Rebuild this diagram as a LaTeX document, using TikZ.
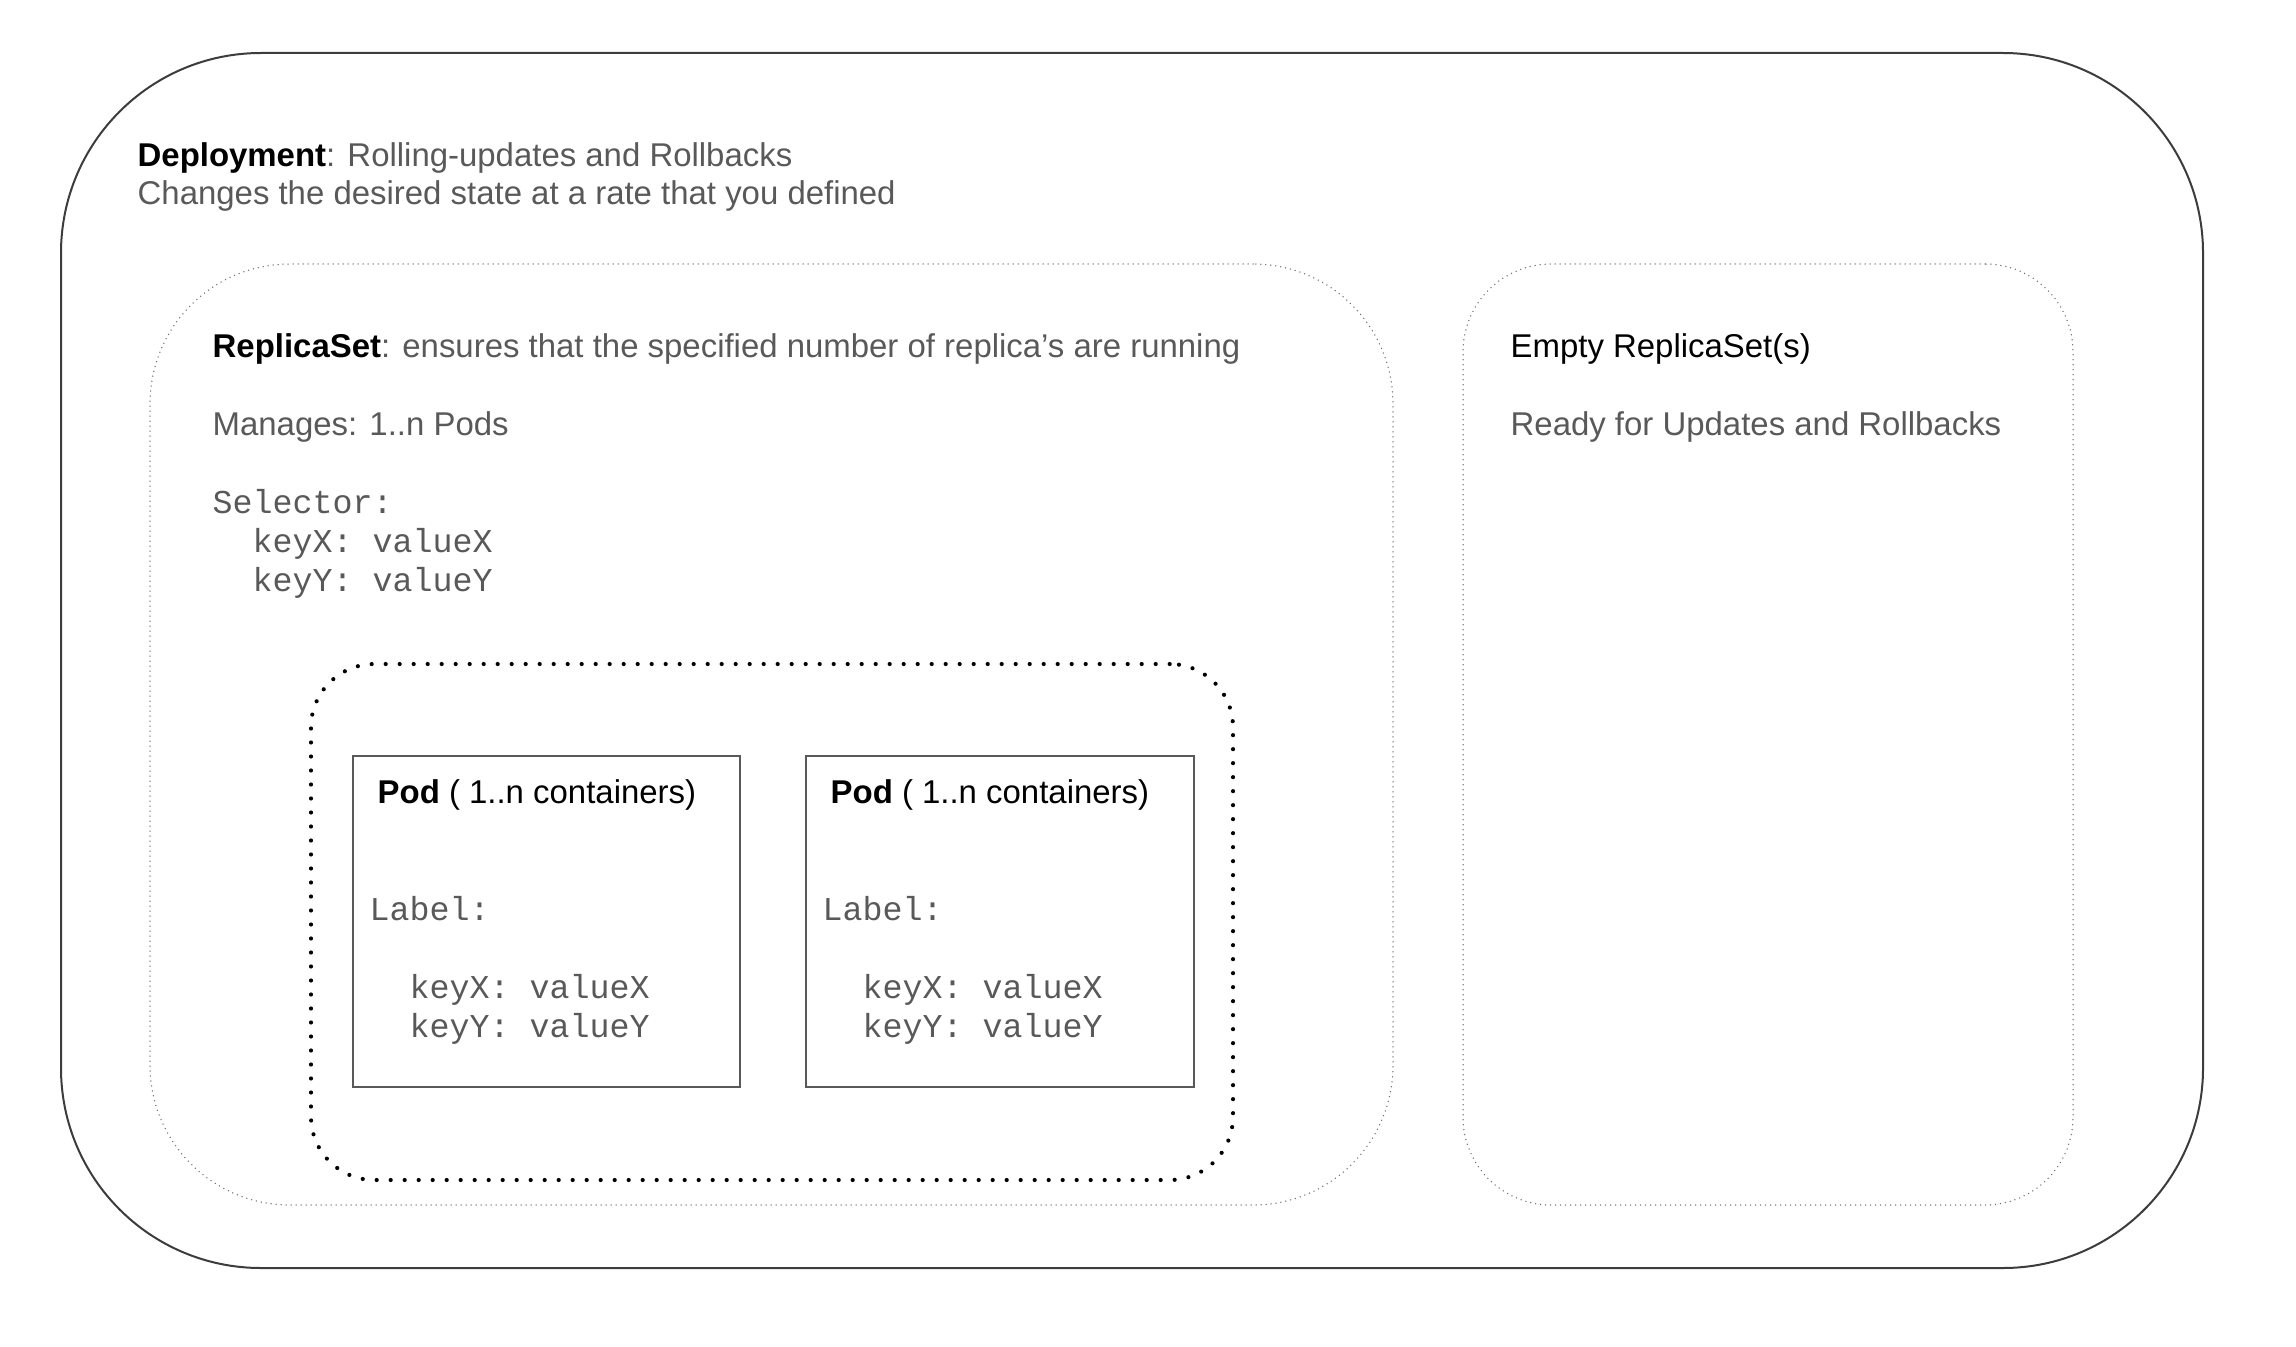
\documentclass[tikz,border=0pt]{standalone}
\usepackage{fontspec}
\setmainfont{Liberation Sans}
\setmonofont{Liberation Mono}
\usetikzlibrary{fit}
\definecolor{txtgray}{HTML}{595959}
\definecolor{linegray}{HTML}{3C3C3C}
\definecolor{dotgray}{HTML}{6E6E6E}

\begin{document}
\begin{tikzpicture}[x=0.3pt, y=0.3pt, every node/.style={font=\fontsize{9.88}{12}\selectfont}]
  % Styles
  \tikzset{
    deploybox/.style={rectangle, draw=linegray, line width=0.6pt, rounded corners=60pt, inner sep=0pt},
    rsbox/.style={rectangle, draw=dotgray, line width=0.45pt, line cap=round, dash pattern=on 0pt off 1.5pt, inner sep=0pt},
    podgroup/.style={rectangle, draw=black, line width=1.25pt, line cap=round, dash pattern=on 0pt off 4.2pt, rounded corners=19pt, inner sep=0pt},
    podbox/.style={rectangle, draw=linegray!85, line width=0.6pt, inner sep=0pt},
    txt/.style={anchor=base west, inner sep=0pt, text=txtgray},
    mono/.style={txt, font=\fontsize{10}{12}\selectfont\ttfamily}
  }
  \useasboundingbox (0,0) rectangle (2296,1346);

  % Containers
  \node[deploybox, fit={(61,1293) (2203,78)}] (deploy) {};
  \node[rsbox, rounded corners=42pt, fit={(150,1082) (1393,141)}] (rs) {};
  \node[rsbox, rounded corners=26.4pt, fit={(1463,1082) (2073,141)}] (emptyrs) {};
  \node[podgroup, fit={(311,682) (1233,166)}] (pods) {};
  \node[podbox, fit={(353,590) (740,259)}] (podA) {};
  \node[podbox, fit={(806,590) (1194,259)}] (podB) {};

  % Deployment
  \node[txt] (deptitle) at (137,1179) {\textcolor{black}{\textbf{Deployment}}: Rolling-updates and Rollbacks};
  \node[txt] (depnote) at (137,1141) {Changes the desired state at a rate that you defined};

  % ReplicaSet
  \node[txt] (rstitle) at (212,989) {\textcolor{black}{\textbf{ReplicaSet}}: ensures that the specified number of replica’s are running};
  \node[txt] (rsmanages) at (212,911) {Manages: 1..n Pods};
  \node[mono] (rssel) at (212,833) {Selector:};
  \node[mono] (rskeyx) at (252,794) {keyX: valueX};
  \node[mono] (rskeyy) at (252,755) {keyY: valueY};

  % Empty ReplicaSet(s)
  \node[txt, text=black] (emptytitle) at (1510,989) {Empty ReplicaSet(s)};
  \node[txt] (emptynote) at (1510,911) {Ready for Updates and Rollbacks};

  % Pods
  \node[txt, text=black] (podAtitle) at (377,543) {\textbf{Pod} ( 1..n containers)};
  \node[mono] (podAlabel) at (369,426) {Label:};
  \node[mono] (podAkeyx) at (409,348) {keyX: valueX};
  \node[mono] (podAkeyy) at (409,309) {keyY: valueY};

  \node[txt, text=black] (podBtitle) at (830,543) {\textbf{Pod} ( 1..n containers)};
  \node[mono] (podBlabel) at (822,426) {Label:};
  \node[mono] (podBkeyx) at (862,348) {keyX: valueX};
  \node[mono] (podBkeyy) at (862,309) {keyY: valueY};
\end{tikzpicture}
\end{document}
